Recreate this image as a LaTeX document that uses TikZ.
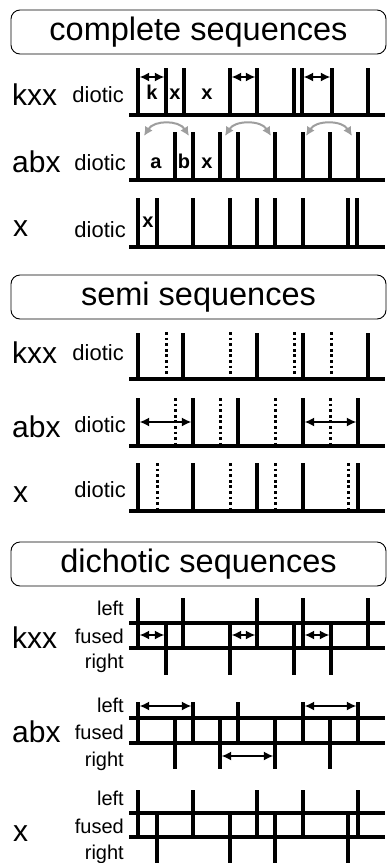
\documentclass[tikz,border=0pt]{standalone}
\usepackage{fontspec}
\setmainfont{Liberation Sans}
\usetikzlibrary{arrows.meta}
\begin{document}
\begin{tikzpicture}[x=1pt,y=-1pt,
  titlebox/.style={draw, rounded corners=9pt, line width=0.9pt, minimum width=375pt, minimum height=44pt, inner sep=0pt, font=\fontsize{32.5}{34}\selectfont},
  rowlab/.style={anchor=base west, inner sep=0pt, font=\fontsize{30}{32}\selectfont},
  sublab/.style={anchor=base east, inner sep=0pt, font=\fontsize{22}{23}\selectfont},
  chlab/.style={anchor=base east, inner sep=0pt, font=\fontsize{20}{22}\selectfont},
  seglab/.style={anchor=base, inner sep=0pt, font=\bfseries\fontsize{20}{21}\selectfont},
  bar/.style={line width=3.4pt},
  dotbar/.style={line width=3pt, dash pattern=on 2.8pt off 2.8pt},
  axisline/.style={line width=3.4pt},
  span/.style={line width=1.4pt, {Latex[length=9.5pt,width=9pt]}-{Latex[length=9.5pt,width=9pt]}},
  swaparc/.style={draw=black!38, line width=2pt, {Latex[length=9pt,width=9pt]}-{Latex[length=9pt,width=9pt]}}
]
\useasboundingbox (0,0) rectangle (391,863);

% ================= complete sequences =================
\node[titlebox] (tc) at (198.5,32) {complete sequences};

% kxx
\node[rowlab] (ckxx) at (12,105) {kxx};
\node[sublab] (ckxxd) at (124,102) {diotic};
\draw[axisline] (129,115) -- (385,115);
\foreach \x in {138,166,184,230,257,294,302,332,368} \draw[bar] (\x,68) -- (\x,115);
\draw[span] (139.7,77) -- (164.3,77);
\draw[span] (231.7,77) -- (255.3,77);
\draw[span] (303.7,77) -- (330.3,77);
\node[seglab] (ck1) at (152,99) {k};
\node[seglab] (ck2) at (175,99) {x};
\node[seglab] (ck3) at (207,99) {x};

% swap arcs
\draw[swaparc] (144,136) .. controls +(10,-16) and +(-10,-16) .. (189,136);
\draw[swaparc] (225,136) .. controls +(10,-16) and +(-10,-16) .. (271,136);
\draw[swaparc] (306,136) .. controls +(10,-16) and +(-10,-16) .. (352,136);

% abx
\node[rowlab] (cabx) at (12,172) {abx};
\node[sublab] (cabxd) at (126,170) {diotic};
\draw[axisline] (129,180) -- (385,180);
\foreach \x in {138,175,193,220,238,275,303,330,358} \draw[bar] (\x,132) -- (\x,180);
\node[seglab] (ca1) at (156,168) {a};
\node[seglab] (ca2) at (184,168) {b};
\node[seglab] (ca3) at (207,168) {x};

% x
\node[rowlab] (cx) at (13,236) {x};
\node[sublab] (cxd) at (126,237) {diotic};
\draw[axisline] (129,247) -- (385,247);
\foreach \x in {138,157,193,230,257,275,303,348,357} \draw[bar] (\x,198) -- (\x,247);
\node[seglab] (cx1) at (148,227) {x};

% ================= semi sequences =================
\node[titlebox] (ts) at (198.5,297) {semi sequences};

% kxx
\node[rowlab] (skxx) at (12,363) {kxx};
\node[sublab] (skxxd) at (124,360) {diotic};
\draw[axisline] (129,379) -- (385,379);
\foreach \x in {138,183,257,303,368} \draw[bar] (\x,333) -- (\x,379);
\foreach \x in {166,230,294,331} \draw[dotbar] (\x,332) -- (\x,376);

% abx
\node[rowlab] (sabx) at (12,437) {abx};
\node[sublab] (sabxd) at (126,432) {diotic};
\draw[axisline] (129,446) -- (385,446);
\foreach \x in {138,193,238,303,358} \draw[bar] (\x,398) -- (\x,446);
\foreach \x in {175,220,275,330} \draw[dotbar] (\x,398) -- (\x,443);
\draw[span] (139.7,422) -- (191.3,422);
\draw[span] (304.7,422) -- (356.3,422);

% x
\node[rowlab] (sx) at (13,502) {x};
\node[sublab] (sxd) at (126,497) {diotic};
\draw[axisline] (129,511) -- (385,511);
\foreach \x in {138,193,257,303,358} \draw[bar] (\x,463) -- (\x,511);
\foreach \x in {157,230,275,348} \draw[dotbar] (\x,463) -- (\x,508);

% ================= dichotic sequences =================
\node[titlebox] (td) at (198.5,564) {dichotic sequences};

% kxx
\node[rowlab] (dkxx) at (12,648) {kxx};
\node[chlab] (dkl) at (124,615) {left};
\node[chlab] (dkf) at (124,643) {fused};
\node[chlab] (dkr) at (124,668) {right};
\draw[axisline] (129,623) -- (385,623);
\draw[axisline] (129,648) -- (385,648);
\foreach \x in {138,183,257,303,368} \draw[bar] (\x,598) -- (\x,648);
\foreach \x in {166,230,294,331} \draw[bar] (\x,623) -- (\x,675);
\draw[span] (139.7,635) -- (164.3,635);
\draw[span] (231.7,635) -- (255.3,635);
\draw[span] (304.7,635) -- (329.3,635);

% abx
\node[rowlab] (dabx) at (12,742) {abx};
\node[chlab] (dal) at (124,712) {left};
\node[chlab] (daf) at (124,739) {fused};
\node[chlab] (dar) at (124,766) {right};
\draw[axisline] (129,718) -- (385,718);
\draw[axisline] (129,743) -- (385,743);
\foreach \x in {138,193,238,303,358} \draw[bar] (\x,702) -- (\x,743);
\foreach \x in {175,220,275,330} \draw[bar] (\x,718) -- (\x,769);
\draw[span] (139.7,706) -- (191.3,706);
\draw[span] (304.7,706) -- (356.3,706);
\draw[span] (221.7,756) -- (273.3,756);

% x
\node[rowlab] (dx) at (13,841) {x};
\node[chlab] (dxl) at (124,805) {left};
\node[chlab] (dxf) at (124,833) {fused};
\node[chlab] (dxr) at (124,859) {right};
\draw[axisline] (129,813) -- (385,813);
\draw[axisline] (129,837) -- (385,837);
\foreach \x in {138,193,257,303,358} \draw[bar] (\x,790) -- (\x,837);
\foreach \x in {157,230,275,348} \draw[bar] (\x,813) -- (\x,863);
\end{tikzpicture}
\end{document}
